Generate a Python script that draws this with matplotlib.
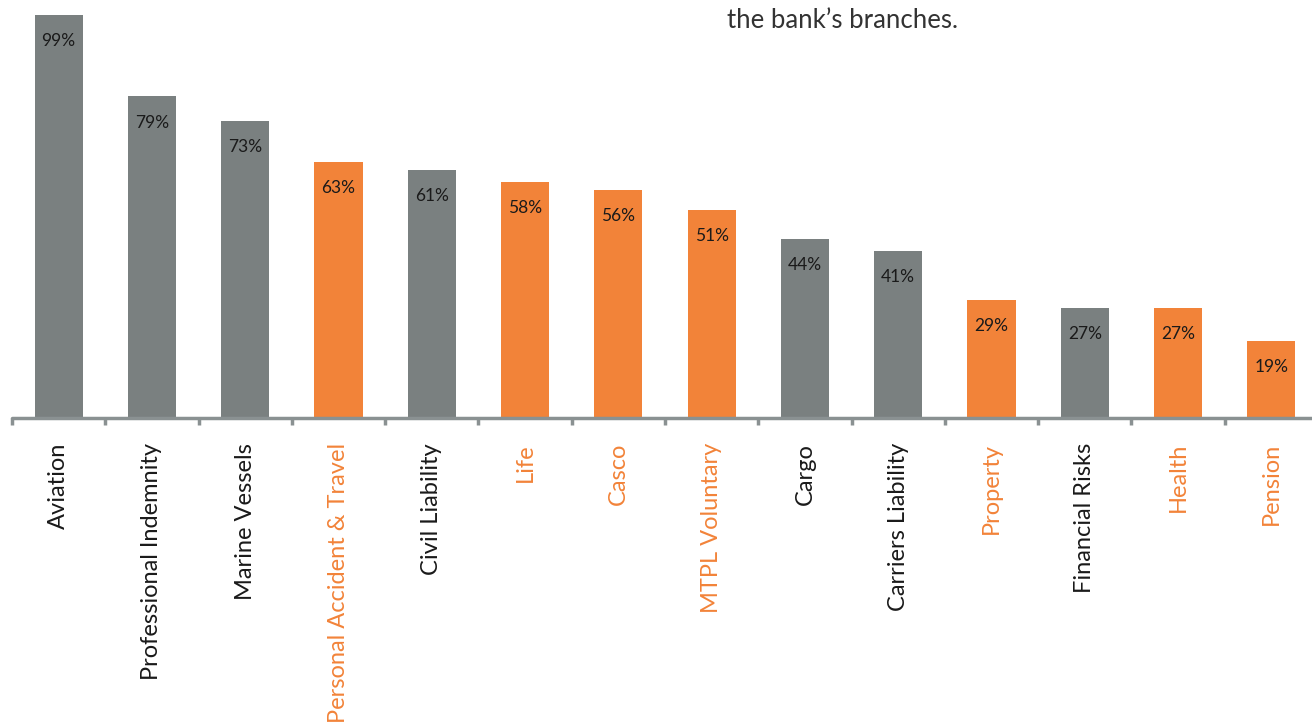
import matplotlib
matplotlib.use("Agg")
import matplotlib.pyplot as plt

categories = [
    "Aviation", "Professional Indemnity", "Marine Vessels",
    "Personal Accident & Travel", "Civil Liability", "Life", "Casco",
    "MTPL Voluntary", "Cargo", "Carriers Liability", "Property",
    "Financial Risks", "Health", "Pension",
]
values = [99, 79, 73, 63, 61, 58, 56, 51, 44, 41, 29, 27, 27, 19]
highlighted = [False, False, False, True, False, True, True,
               True, False, False, True, False, True, True]

GREY = "#7a8080"
ORANGE = "#f28339"
AXIS = "#8a9192"
TEXT = "#1a1a1a"

plt.rcParams["font.family"] = ["Lato", "DejaVu Sans"]

W, H = 1312, 723
fig = plt.figure(figsize=(W / 100, H / 100), dpi=100)
# axes spans past the right edge, as in the original slide
ax = fig.add_axes([12 / W, (H - 418) / H, 1306 / W, 407 / H])

x = list(range(len(categories)))
colors = [ORANGE if h else GREY for h in highlighted]
bars = ax.bar(x, values, width=0.515, color=colors, zorder=2)

ax.set_xlim(-0.5, len(categories) - 0.5)
ax.set_ylim(0, 100)

for rect, v in zip(bars, values):
    ax.annotate(f"{v}%", (rect.get_x() + rect.get_width() / 2, v),
                xytext=(0, -13), textcoords="offset points",
                ha="center", va="top", fontsize=12.5, color=TEXT, zorder=3)

for s in ["top", "right", "left"]:
    ax.spines[s].set_visible(False)
ax.spines["bottom"].set_color(AXIS)
ax.spines["bottom"].set_linewidth(2.5)
ax.spines["bottom"].set_capstyle("round")
ax.set_yticks([])

# tick marks sit between categories
ax.set_xticks([i - 0.5 for i in range(len(categories) + 1)], minor=False)
ax.set_xticklabels([])
ax.tick_params(axis="x", direction="out", length=5, width=2.5, color=AXIS)

for i, (name, h) in enumerate(zip(categories, highlighted)):
    ax.annotate(name, (i, 0), xytext=(0, -18), textcoords="offset points",
                rotation=90, ha="center", va="top", fontsize=17,
                color=ORANGE if h else TEXT, annotation_clip=False)

fig.text(727 / W, 1 - 20 / H, "the bank\u2019s branches.", fontsize=18.5,
         color="#333333", ha="left", va="center")

fig.savefig("out.png", dpi=100)
